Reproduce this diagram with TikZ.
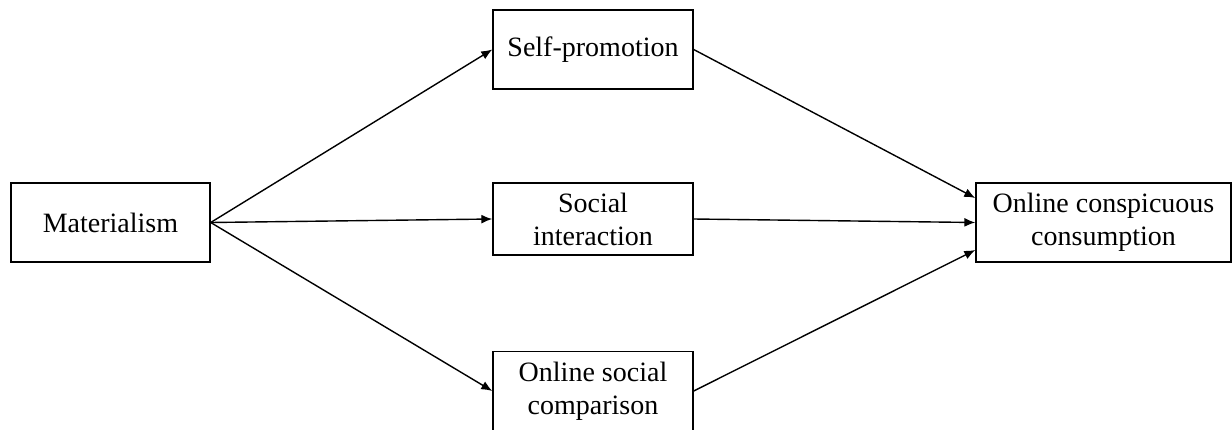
\documentclass[tikz,border=0pt]{standalone}
\usepackage{fontspec}
\setmainfont{Liberation Serif}
\usetikzlibrary{arrows.meta,positioning}
\tikzset{
  varbox/.style={draw,align=center,inner sep=2pt,minimum height=39.5pt,
    font=\fontsize{14}{16.5}\selectfont},
}

\begin{document}
\begin{tikzpicture}[x=0.5pt,y=-0.5pt,line width=0.7pt,>={Latex[length=5.5pt,width=4.5pt]}]
\useasboundingbox (0,0) rectangle (1232,429);
\node[varbox,minimum width=99.5pt] (mat) at (110.5,222.5) {Materialism};
\node[varbox,minimum width=100pt] (selfp) at (593,49.5) {Self-promotion};
\node[varbox,minimum width=100pt,minimum height=36pt] (soc) at (593,219) {Social\\interaction};
\node[varbox,minimum width=100pt] (comp) at (593,391) {Online social\\comparison};
\node[varbox,minimum width=127.5pt] (cons) at (1103.5,222.5) {Online conspicuous\\consumption};
\draw[->] (mat.east)--(selfp.west);
\draw[->] (mat.east)--(soc.west);
\draw[->] (mat.east)--(comp.west);
\draw[->] (selfp.east)--([yshift=12.25pt]cons.west);
\draw[->] (soc.east)--(cons.west);
\draw[->] (comp.east)--([yshift=-13.75pt]cons.west);
\end{tikzpicture}
\end{document}
